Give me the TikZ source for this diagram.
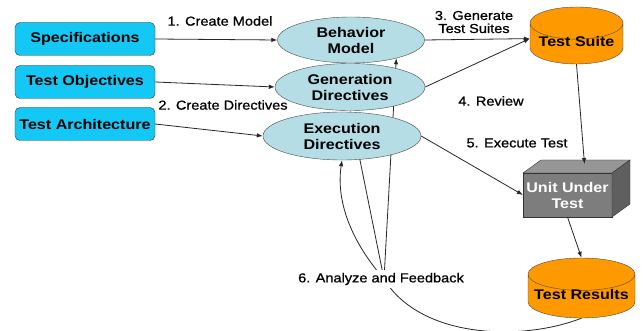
\documentclass[tikz,border=0pt]{standalone}
\usepackage{fontspec}
\setmainfont{Liberation Sans}[FakeStretch=1.15]
\newfontfamily\labelfont{Liberation Sans}[FakeStretch=1.12, FakeBold=0.8]
\usetikzlibrary{shapes.geometric,arrows.meta,backgrounds}

\definecolor{boxcyan}{RGB}{20,200,245}
\definecolor{ellblue}{RGB}{180,221,229}
\definecolor{storeorange}{RGB}{255,153,0}
\definecolor{unitfront}{RGB}{125,125,125}
\definecolor{unittop}{RGB}{150,150,150}
\definecolor{unitside}{RGB}{95,95,95}

\begin{document}
\begin{tikzpicture}[
    x=1pt, y=-1pt,
    % Define styles
    source/.style={rectangle, rounded corners=5pt, draw=black!80, fill=boxcyan, minimum width=140pt, minimum height=33pt, font=\fontsize{14}{16}\selectfont\bfseries},
    artifact/.style={ellipse, draw=black!70, fill=ellblue, inner sep=0pt, align=center, font=\fontsize{14}{16}\selectfont\bfseries},
    store/.style={cylinder, shape border rotate=90, anchor=shape center, draw=black!70, fill=storeorange, text height=0pt, text depth=0pt, font=\fontsize{14}{16}\selectfont\bfseries},
    unit/.style={rectangle, draw=black!80, fill=unitfront, minimum width=89pt, minimum height=44pt, outer sep=0pt, align=center, text=white, font=\fontsize{14}{16}\selectfont\bfseries},
    steplabel/.style={font=\labelfont\fontsize{13}{13}\selectfont, align=center},
    link/.style={line width=0.8pt, draw=black!85},
    flow/.style={link, -{Latex[length=6pt,width=4.5pt]}}
]
\useasboundingbox (0,0) rectangle (643,331);

% Input documents
\node[source] (spec) at (85,39) {Specifications};
\node[source] (objectives) at (85,82) {Test Objectives};
\node[source] (arch) at (85,124) {Test Architecture};

% Model and directives
\node[artifact, minimum width=147pt, minimum height=46pt] (behav) at (351,40) {Behavior\\Model};
\node[artifact, minimum width=150pt, minimum height=47pt] (gendir) at (350,87) {Generation\\Directives};
\node[artifact, minimum width=158pt, minimum height=48pt] (execdir) at (342,136) {Execution\\Directives};

% Test suite and results
\node[store, aspect=0.39, minimum width=93pt, minimum height=57pt] (suite) at (576.5,35.5) {Test Suite};
\node[store, aspect=0.32, minimum width=107pt, minimum height=60pt] (results) at (581.5,288) {Test Results};

% Unit under test
\node[unit] (uut) at (567.5,195) {Unit Under\\Test};
\draw[draw=black!80, fill=unittop] (uut.north west) -- ++(18,-13) -- ++(89,0) -- (uut.north east) -- cycle;
\draw[draw=black!80, fill=unitside] (uut.north east) -- ++(18,-13) -- ++(0,44) -- (uut.south east) -- cycle;

% Modelling steps
\draw[flow] (spec.east) -- (behav.west);
\draw[flow] (objectives.east) -- (gendir.west);
\draw[flow] (arch.east) -- (execdir.west);

% Generation, review and execution
\draw[flow] (behav.east) -- ([shift={(0,-8)}]suite.west);
\draw[flow] (gendir.east) -- ([shift={(0,-8)}]suite.west);
\draw[flow] (suite.south) -- ([shift={(17,-9)}]uut.north);
\draw[flow] (execdir.east) -- (uut.west);
\draw[flow] (uut.south) -- (results.north);

% Feedback
\coordinate (fb) at (384,279);
\begin{pgfonlayer}{background}
\draw[link] (results.south) .. controls (520,342) and (420,338) .. (fb);
\draw[flow] (fb) -- (behav.-22);
\draw[flow] (fb) -- (gendir.south);
\draw[flow] (fb) .. controls (350,240) and (336,200) .. (execdir.south);
\end{pgfonlayer}

% Step labels
\node[steplabel] (createmodel) at (220,21) {1. Create Model};
\node[steplabel] (createdir) at (223,105) {2. Create Directives};
\node[steplabel] (gensuite) at (474,22) {3. Generate\\Test Suites};
\node[steplabel] (review) at (491,101) {4. Review};
\node[steplabel] (execute) at (517,143) {5. Execute Test};
\node[steplabel, fill=white, inner ysep=3pt] (feedback) at (381,279) {6. Analyze and Feedback};

\end{tikzpicture}
\end{document}
